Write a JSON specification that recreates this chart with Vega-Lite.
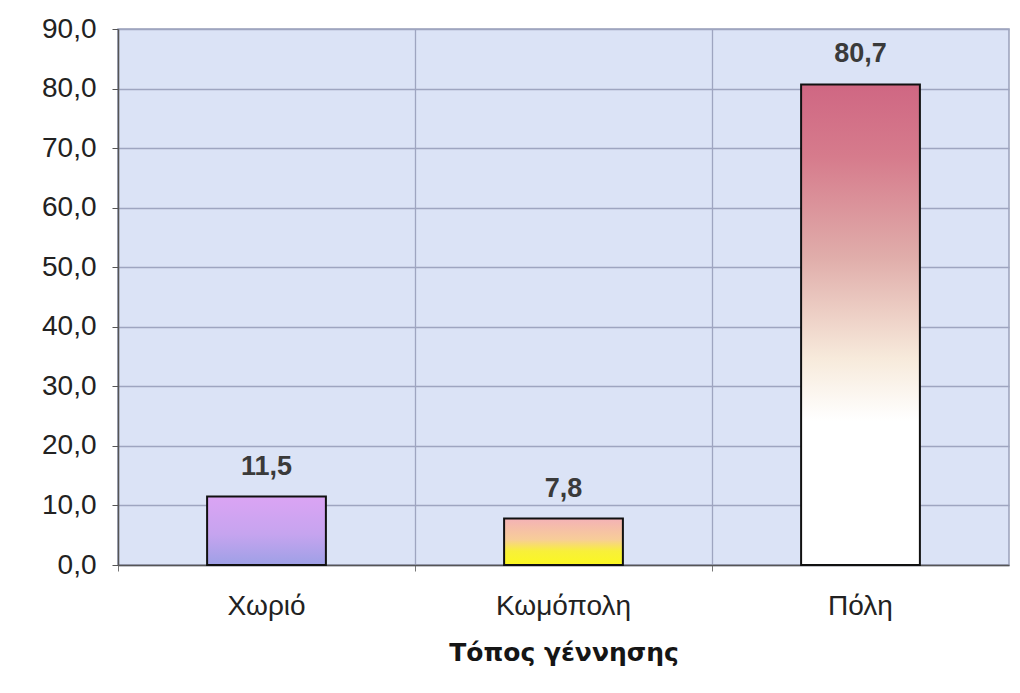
{
  "$schema": "https://vega.github.io/schema/vega-lite/v6.json",
  "width": 891,
  "height": 536,
  "autosize": {"type": "none"},
  "padding": {"left": 118, "top": 29, "right": 11, "bottom": 128},
  "background": "#ffffff",
  "config": {
    "locale": {"number": {"decimal": ",", "thousands": ".", "grouping": [3], "currency": ["", " €"]}},
    "view": {"fill": "#dbe3f6", "stroke": "#9aa1bb", "strokeWidth": 1.5},
    "font": "Liberation Sans"
  },
  "data": {
    "values": [
      {"place": "Χωριό", "pct": 11.5},
      {"place": "Κωμόπολη", "pct": 7.8},
      {"place": "Πόλη", "pct": 80.7}
    ]
  },
  "encoding": {
    "y": {
      "field": "pct",
      "type": "quantitative",
      "scale": {"domain": [0, 90], "nice": false, "zero": true},
      "axis": {
        "values": [0, 10, 20, 30, 40, 50, 60, 70, 80, 90],
        "format": ".1f",
        "title": null,
        "grid": true,
        "gridColor": "#9ea5c0",
        "gridWidth": 1.3,
        "domainColor": "#555555",
        "domainWidth": 1.5,
        "tickColor": "#555555",
        "tickSize": 6,
        "labelFontSize": 28,
        "labelColor": "#222222",
        "labelPadding": 16
      }
    }
  },
  "layer": [
    {
      "transform": [{"filter": "datum.place === 'Χωριό'"}],
      "mark": {
        "type": "bar",
        "stroke": "#111111",
        "strokeWidth": 2,
        "fill": {
          "gradient": "linear", "x1": 0, "y1": 0, "x2": 0, "y2": 1,
          "stops": [
            {"offset": 0, "color": "#dba4f4"},
            {"offset": 0.55, "color": "#c6a4ef"},
            {"offset": 1, "color": "#9ea0e6"}
          ]
        }
      },
      "encoding": {
        "x": {
          "field": "place", "type": "nominal", "sort": ["Χωριό", "Κωμόπολη", "Πόλη"],
          "scale": {"paddingInner": 0.6, "paddingOuter": 0.3},
          "axis": {
            "orient": "bottom",
            "bandPosition": -0.75,
            "grid": true,
            "gridColor": "#9ea5c0",
            "gridWidth": 1.3,
            "labels": false,
            "ticks": true,
            "tickSize": 6,
            "tickColor": "#777777",
            "domain": true,
            "domainColor": "#555555",
            "domainWidth": 1.5,
            "title": null
          }
        },
        "y": {"field": "pct", "type": "quantitative"}
      }
    },
    {
      "transform": [{"filter": "datum.place === 'Κωμόπολη'"}],
      "mark": {
        "type": "bar",
        "stroke": "#111111",
        "strokeWidth": 2,
        "fill": {
          "gradient": "linear", "x1": 0, "y1": 0, "x2": 0, "y2": 1,
          "stops": [
            {"offset": 0, "color": "#f4b2b6"},
            {"offset": 0.45, "color": "#f7cd98"},
            {"offset": 0.7, "color": "#f8f03a"},
            {"offset": 1, "color": "#fbf820"}
          ]
        }
      },
      "encoding": {
        "x": {"field": "place", "type": "nominal", "sort": ["Χωριό", "Κωμόπολη", "Πόλη"], "axis": null},
        "y": {"field": "pct", "type": "quantitative"}
      }
    },
    {
      "transform": [{"filter": "datum.place === 'Πόλη'"}],
      "mark": {
        "type": "bar",
        "stroke": "#111111",
        "strokeWidth": 2,
        "fill": {
          "gradient": "linear", "x1": 0, "y1": 0, "x2": 0, "y2": 1,
          "stops": [
            {"offset": 0, "color": "#cf6783"},
            {"offset": 0.15, "color": "#d67b8c"},
            {"offset": 0.36, "color": "#e0adaa"},
            {"offset": 0.57, "color": "#f7eadb"},
            {"offset": 0.7, "color": "#ffffff"},
            {"offset": 1, "color": "#ffffff"}
          ]
        }
      },
      "encoding": {
        "x": {"field": "place", "type": "nominal", "sort": ["Χωριό", "Κωμόπολη", "Πόλη"], "axis": null},
        "y": {"field": "pct", "type": "quantitative"}
      }
    },
    {
      "mark": {
        "type": "text",
        "baseline": "alphabetic",
        "dy": -22,
        "fontSize": 27,
        "fontWeight": "bold",
        "color": "#3a3a3a"
      },
      "encoding": {
        "x": {
          "field": "place", "type": "nominal", "sort": ["Χωριό", "Κωμόπολη", "Πόλη"],
          "axis": {
            "orient": "bottom",
            "grid": false,
            "ticks": false,
            "domain": false,
            "labelAngle": 0,
            "labelFontSize": 28,
            "labelColor": "#222222",
            "labelPadding": 27,
            "title": "Τόπος γέννησης",
            "titleFont": "DejaVu Sans",
            "titleFontSize": 25,
            "titleFontWeight": "bold",
            "titleColor": "#151515",
            "titlePadding": 20
          }
        },
        "y": {"field": "pct", "type": "quantitative"},
        "text": {"field": "pct", "type": "quantitative", "format": ".1f"}
      }
    }
  ],
  "resolve": {"axis": {"x": "independent"}}
}
